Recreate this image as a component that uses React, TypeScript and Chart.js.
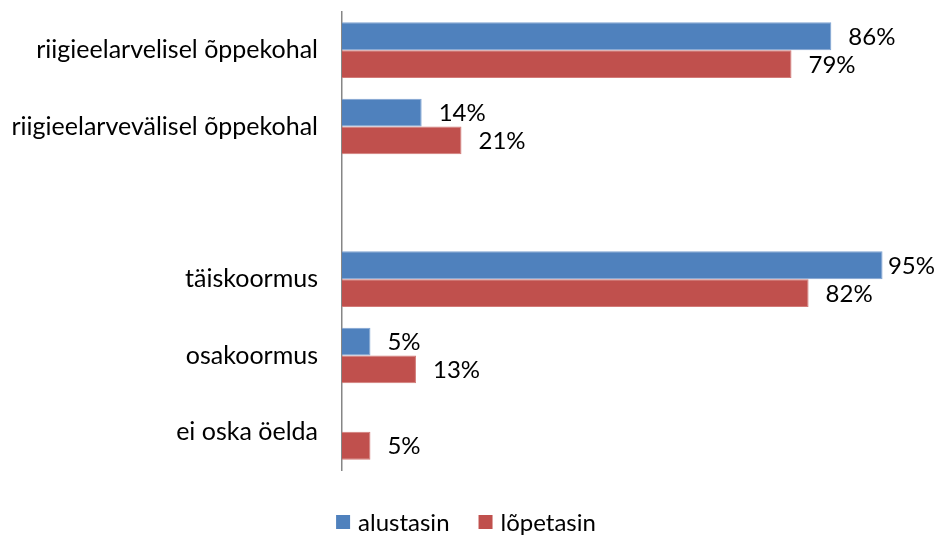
import React, { useEffect, useRef } from "react";
import { Chart, registerables } from "chart.js";

Chart.register(...registerables);

const categories = [
  "riigieelarvelisel õppekohal",
  "riigieelarvevälisel õppekohal",
  "",
  "täiskoormus",
  "osakoormus",
  "ei oska öelda",
];
const seriesNames = ["alustasin", "lõpetasin"];
const alustasin: (number | null)[] = [86, 14, null, 95, 5, null];
const lopetasin: (number | null)[] = [79, 21, null, 82, 13, 5];
const seriesColors = ["#4F81BD", "#C0504D"];
const borderColors = ["#7FA3D2", "#D27B78"];

const FONT = "Lato, 'Open Sans', sans-serif";
const FS = 24;
const W = 936;
const H = 535;

const valueLabels = {
  id: "valueLabels",
  afterDatasetsDraw(chart: any) {
    const ctx = chart.ctx;
    ctx.save();
    ctx.font = `${FS}px ${FONT}`;
    ctx.fillStyle = "#000";
    ctx.textBaseline = "middle";
    ctx.textAlign = "left";
    chart.data.datasets.forEach((ds: any, di: number) => {
      const meta = chart.getDatasetMeta(di);
      meta.data.forEach((el: any, i: number) => {
        const v = ds.data[i];
        if (v === null || v === undefined) return;
        const t = `${v}%`;
        const w = ctx.measureText(t).width;
        const x = Math.min(el.x + 17, W - 1 - w);
        ctx.fillText(t, x, el.y + 1);
      });
    });
    ctx.restore();
  },
};

const customLegend = {
  id: "customLegend",
  afterDraw(chart: any) {
    const ctx = chart.ctx;
    ctx.save();
    ctx.font = `${FS}px ${FONT}`;
    ctx.textBaseline = "middle";
    ctx.textAlign = "left";
    const box = 14;
    const gapBoxText = 8;
    const gapItems = 29;
    const widths = seriesNames.map((n) => box + gapBoxText + ctx.measureText(n).width);
    const total = widths.reduce((a, b) => a + b, 0) + gapItems * (seriesNames.length - 1);
    let x = 466 - total / 2;
    const y = 522;
    seriesNames.forEach((n, i) => {
      ctx.fillStyle = seriesColors[i];
      ctx.fillRect(x, y - box / 2, box, box);
      ctx.fillStyle = "#000";
      ctx.fillText(n, x + box + gapBoxText, y + 1);
      x += widths[i] + gapItems;
    });
    ctx.restore();
  },
};

export default function App() {
  const ref = useRef<HTMLCanvasElement>(null);
  useEffect(() => {
    document.body.style.margin = "0";
    const canvas = ref.current!;
    const chart = new Chart(canvas, {
      type: "bar",
      data: {
        labels: categories,
        datasets: [
          {
            label: seriesNames[0],
            data: alustasin,
            backgroundColor: seriesColors[0],
            borderColor: borderColors[0],
            borderWidth: 1,
          },
          {
            label: seriesNames[1],
            data: lopetasin,
            backgroundColor: seriesColors[1],
            borderColor: borderColors[1],
            borderWidth: 1,
          },
        ],
      },
      options: {
        indexAxis: "y",
        responsive: false,
        animation: false,
        devicePixelRatio: 1,
        categoryPercentage: 0.73,
        barPercentage: 1,
        layout: { padding: { top: 12, right: 25, bottom: 65, left: 0 } },
        plugins: {
          legend: { display: false },
          tooltip: { enabled: false },
        },
        scales: {
          x: { min: 0, max: 100, display: false },
          y: {
            grid: { display: false, drawTicks: false },
            border: { display: true, color: "#868686", width: 1.5 },
            ticks: { font: { family: FONT, size: 25 }, color: "#000", padding: 24 },
            afterFit: (s: any) => {
              s.width = 342;
              s.paddingTop = 0;
              s.paddingBottom = 0;
            },
          },
        },
      } as any,
      plugins: [valueLabels, customLegend],
    });
    return () => chart.destroy();
  }, []);
  return (
    <div style={{ width: W, height: H, background: "#fff" }}>
      <canvas ref={ref} width={W} height={H} style={{ display: "block" }} />
    </div>
  );
}
